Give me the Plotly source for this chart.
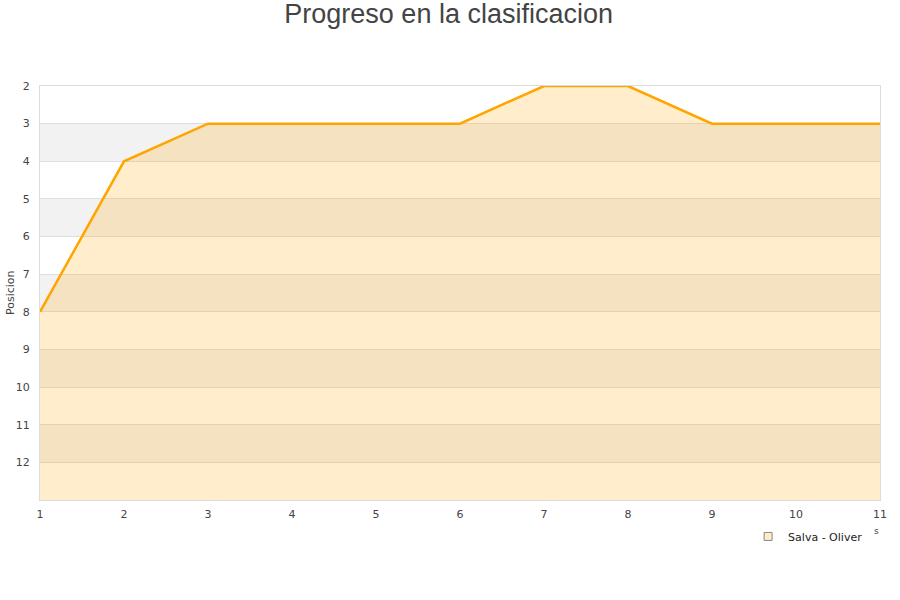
import plotly.graph_objects as go

jornadas = [1, 2, 3, 4, 5, 6, 7, 8, 9, 10, 11]
posicion = [8, 4, 3, 3, 3, 3, 2, 2, 3, 3, 3]
serie = "Salva - Oliver"
y_ticks = [2, 3, 4, 5, 6, 7, 8, 9, 10, 11, 12]
y_min, y_max = 2, 13

fig = go.Figure()

# alternating bands
for k in range(3, 13, 2):
    fig.add_shape(type="rect", xref="paper", yref="y", x0=0, x1=1, y0=k, y1=k + 1,
                  fillcolor="#f2f2f2", line_width=0, layer="below")

# baseline
fig.add_trace(go.Scatter(x=jornadas, y=[y_max] * len(jornadas), mode="lines",
                         line=dict(width=0), showlegend=False, hoverinfo="skip"))
fig.add_trace(go.Scatter(x=jornadas, y=posicion, mode="lines", name=serie,
                         line=dict(color="#FFA500", width=2.5),
                         fill="tonexty", fillcolor="rgba(255,165,0,0.2)",
                         showlegend=False))
# legend proxy
fig.add_trace(go.Scatter(x=[None], y=[None], mode="markers", name=serie,
                         marker=dict(symbol="square", size=8, color="#FFEBC8",
                                     line=dict(color="#888", width=1))))

fig.add_annotation(text="s", xref="paper", yref="paper", x=0.9955, y=-0.075,
                   xanchor="center", yanchor="middle",
                   showarrow=False, font=dict(size=9, color="#444"))
fig.add_annotation(text="Posicion", xref="paper", yref="paper", x=-0.0357, y=0.5,
                   xanchor="center", yanchor="middle", textangle=-90,
                   showarrow=False, font=dict(size=11, color="#444"))

fig.update_layout(
    width=900, height=600,
    paper_bgcolor="white", plot_bgcolor="white",
    margin=dict(l=40, r=20, t=86, b=100),
    title=dict(text="Progreso en la clasificacion", x=0.4985, xanchor="center",
               y=0.977, yanchor="middle",
               font=dict(family="Liberation Sans", size=27, color="#444")),
    font=dict(family="DejaVu Sans", size=11, color="#444"),
    legend=dict(x=0.843, y=-0.053, xanchor="left", yanchor="top",
                font=dict(size=11, color="#222"), bgcolor="rgba(0,0,0,0)"),
)
fig.update_xaxes(range=[1, 11], tickvals=jornadas, showgrid=False, zeroline=False,
                 showline=True, linecolor="#dcdcdc", linewidth=1, mirror=True,
                 automargin=False,
                 ticks="outside", ticklen=4, tickcolor="rgba(0,0,0,0)",
                 tickfont=dict(size=11, color="#444"))
fig.update_yaxes(range=[y_max, y_min], tickvals=y_ticks, showgrid=True,
                 gridcolor="#dedede", gridwidth=1, zeroline=False,
                 showline=True, linecolor="#dcdcdc", mirror=True,
                 automargin=False,
                 ticks="outside", ticklen=7, tickcolor="rgba(0,0,0,0)",
                 tickfont=dict(size=11, color="#444"))

fig.write_html("out.html", config={"displayModeBar": False},
               post_script="document.body.style.margin='0';")
